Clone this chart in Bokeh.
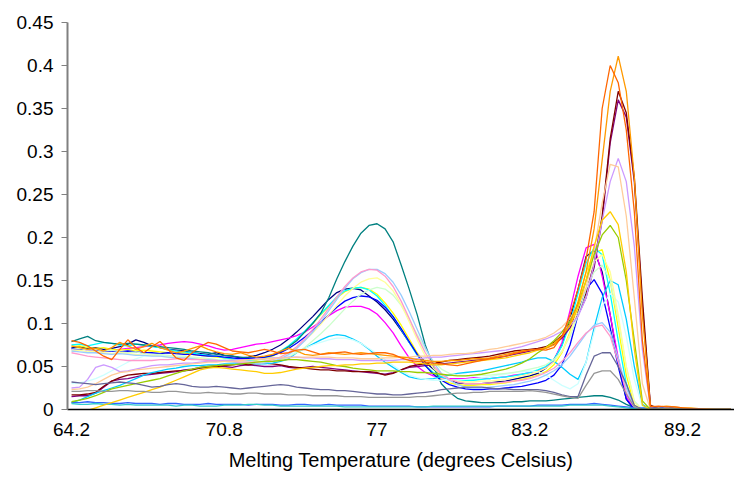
from bokeh.plotting import figure
from bokeh.models import Range1d, FixedTicker
from bokeh.embed import file_html
from bokeh.resources import INLINE

# ---------------- data (index = category step) ----------------
X_TICK_LABELS = ["64.2", "70.8", "77", "83.2", "89.2"]
LABEL_EVERY = 19
Y_TICKS = [0, 0.05, 0.1, 0.15, 0.2, 0.25, 0.3, 0.35, 0.4, 0.45]
Y_LABELS = ["0", "0.05", "0.1", "0.15", "0.2", "0.25", "0.3", "0.35", "0.4", "0.45"]

navy = [0.072,0.073,0.071,0.072,0.070,0.071,0.073,0.076,0.081,0.078,
        0.074,0.072,0.070,0.069,0.068,0.066,0.065,0.064,0.066,0.063,
        0.062,0.060,0.061,0.063,0.066,0.070,0.075,0.082,0.090,0.099,
        0.108,0.118,0.128,0.136,0.140,0.141,0.139,0.132,0.125,0.116,
        0.105,0.092,0.078,0.065,0.055,0.047,0.040,0.035,0.031,0.030,
        0.030,0.030,0.031,0.032,0.033,0.035,0.037,0.039,0.042,0.048,
        0.058,0.075,0.105,0.140,0.178,0.185,0.160,0.110,0.055,0.012,0.0,0.0,
        0,0,0,0,0,0,0,0,0,0,0]
magenta = [0.070,0.071,0.069,0.070,0.068,0.069,0.070,0.071,0.072,0.073,
           0.074,0.075,0.077,0.078,0.079,0.078,0.076,0.074,0.071,0.069,
           0.070,0.072,0.074,0.076,0.077,0.079,0.081,0.083,0.086,0.090,
           0.096,0.102,0.109,0.115,0.119,0.120,0.120,0.117,0.111,0.101,
           0.089,0.074,0.060,0.050,0.043,0.039,0.037,0.036,0.036,0.036,
           0.037,0.037,0.036,0.037,0.038,0.040,0.041,0.043,0.045,0.049,
           0.057,0.078,0.115,0.155,0.188,0.192,0.155,0.110,0.060,0.015,0.0,0.0,
           0,0,0,0,0,0,0,0,0,0,0]
yellow = [0.073,0.074,0.072,0.071,0.072,0.070,0.069,0.070,0.068,0.069,
          0.068,0.067,0.066,0.065,0.066,0.064,0.063,0.062,0.061,0.060,
          0.058,0.057,0.056,0.057,0.059,0.062,0.067,0.073,0.081,0.090,
          0.100,0.110,0.120,0.130,0.137,0.141,0.142,0.140,0.134,0.124,
          0.112,0.098,0.082,0.066,0.052,0.042,0.035,0.031,0.029,0.028,
          0.028,0.029,0.029,0.030,0.031,0.033,0.035,0.037,0.040,0.044,
          0.052,0.066,0.090,0.125,0.160,0.182,0.186,0.150,0.095,0.040,0.005,0.0,
          0,0,0,0,0,0,0,0,0,0,0]
cyan = [0.075,0.076,0.074,0.076,0.078,0.077,0.075,0.074,0.076,0.075,
        0.073,0.072,0.070,0.068,0.067,0.066,0.064,0.063,0.062,0.060,
        0.059,0.058,0.057,0.058,0.060,0.063,0.068,0.074,0.082,0.091,
        0.101,0.111,0.121,0.131,0.138,0.141,0.142,0.139,0.132,0.121,
        0.108,0.093,0.078,0.063,0.051,0.043,0.038,0.035,0.034,0.034,
        0.034,0.035,0.036,0.037,0.038,0.039,0.041,0.043,0.046,0.050,
        0.058,0.074,0.100,0.135,0.170,0.188,0.180,0.135,0.080,0.030,0.003,0.0,
        0,0,0,0,0,0,0,0,0,0,0]
purple = [0.015,0.016,0.016,0.019,0.026,0.033,0.035,0.036,0.038,0.040,
          0.041,0.042,0.043,0.044,0.046,0.047,0.049,0.050,0.051,0.050,
          0.049,0.051,0.052,0.051,0.050,0.050,0.051,0.049,0.048,0.049,
          0.050,0.049,0.048,0.047,0.046,0.045,0.044,0.043,0.042,0.041,
          0.043,0.046,0.049,0.050,0.051,0.052,0.053,0.054,0.055,0.056,
          0.057,0.058,0.059,0.060,0.062,0.064,0.066,0.068,0.070,0.072,
          0.076,0.083,0.095,0.110,0.130,0.165,0.220,0.310,0.360,0.340,0.265,0.120,
          0.004,0.001,0,0,0,0,0,0,0,0,0]
darkred = [0.017,0.017,0.018,0.020,0.027,0.033,0.037,0.040,0.041,0.042,
           0.042,0.043,0.044,0.045,0.045,0.046,0.048,0.049,0.050,0.051,
           0.052,0.053,0.052,0.053,0.054,0.053,0.052,0.050,0.049,0.048,
           0.047,0.046,0.046,0.045,0.045,0.044,0.044,0.044,0.043,0.040,
           0.042,0.046,0.050,0.052,0.053,0.054,0.055,0.057,0.058,0.059,
           0.060,0.061,0.062,0.064,0.066,0.068,0.069,0.070,0.071,0.073,
           0.078,0.086,0.098,0.115,0.135,0.170,0.225,0.315,0.370,0.345,0.270,0.130,
           0.005,0.001,0,0,0,0,0,0,0,0,0]
teal = [0.079,0.082,0.085,0.080,0.078,0.077,0.076,0.077,0.076,0.075,
        0.074,0.073,0.072,0.071,0.070,0.068,0.067,0.066,0.064,0.063,
        0.062,0.061,0.060,0.060,0.061,0.063,0.067,0.073,0.080,0.090,
        0.100,0.112,0.130,0.152,0.172,0.190,0.205,0.214,0.216,0.210,
        0.195,0.168,0.140,0.110,0.075,0.050,0.030,0.020,0.013,0.010,
        0.009,0.008,0.008,0.008,0.008,0.009,0.009,0.010,0.010,0.010,
        0.011,0.012,0.013,0.014,0.015,0.016,0.016,0.014,0.011,0.006,0.002,0.0,
        0,0,0,0,0,0,0,0,0,0,0]
blue = [0.071,0.070,0.070,0.069,0.068,0.068,0.067,0.068,0.067,0.066,
        0.066,0.065,0.066,0.065,0.064,0.064,0.063,0.062,0.062,0.061,
        0.060,0.059,0.059,0.060,0.061,0.063,0.066,0.071,0.077,0.084,
        0.092,0.101,0.110,0.119,0.126,0.130,0.132,0.131,0.127,0.119,
        0.108,0.094,0.079,0.064,0.051,0.041,0.034,0.029,0.026,0.024,
        0.023,0.023,0.024,0.024,0.025,0.026,0.027,0.029,0.031,0.034,
        0.040,0.052,0.075,0.110,0.140,0.151,0.135,0.095,0.050,0.012,0.0,0.0,
        0,0,0,0,0,0,0,0,0,0,0]
skyblue = [0.008,0.011,0.015,0.019,0.022,0.025,0.028,0.032,0.036,0.040,
           0.043,0.045,0.047,0.048,0.050,0.051,0.051,0.052,0.052,0.053,
           0.053,0.053,0.054,0.053,0.053,0.054,0.056,0.059,0.066,0.071,
           0.076,0.081,0.085,0.087,0.086,0.082,0.077,0.070,0.062,0.055,
           0.049,0.043,0.038,0.036,0.035,0.036,0.038,0.040,0.042,0.043,
           0.044,0.045,0.047,0.049,0.051,0.053,0.055,0.058,0.060,0.060,
           0.056,0.049,0.041,0.035,0.055,0.095,0.130,0.150,0.145,0.105,0.050,0.006,
           0,0,0,0,0,0,0,0,0,0,0]
lightturq = [0.030,0.031,0.033,0.036,0.040,0.045,0.050,0.055,0.059,0.062,
             0.063,0.063,0.062,0.062,0.061,0.060,0.060,0.059,0.058,0.058,
             0.057,0.057,0.056,0.056,0.057,0.058,0.060,0.063,0.067,0.071,
             0.075,0.078,0.081,0.083,0.083,0.081,0.077,0.071,0.065,0.058,
             0.051,0.045,0.040,0.037,0.035,0.034,0.034,0.034,0.034,0.035,
             0.036,0.037,0.038,0.040,0.041,0.043,0.044,0.045,0.044,0.040,
             0.034,0.028,0.024,0.030,0.055,0.090,0.120,0.135,0.125,0.085,0.035,0.003,
             0,0,0,0,0,0,0,0,0,0,0]
lightgreen = [0.070,0.071,0.069,0.070,0.068,0.069,0.067,0.066,0.067,0.065,
              0.064,0.064,0.063,0.062,0.062,0.061,0.060,0.059,0.058,0.057,
              0.056,0.055,0.055,0.054,0.055,0.056,0.058,0.061,0.066,0.072,
              0.080,0.088,0.097,0.107,0.117,0.126,0.134,0.139,0.142,0.140,
              0.133,0.121,0.105,0.087,0.070,0.056,0.047,0.042,0.040,0.039,
              0.039,0.040,0.040,0.041,0.042,0.043,0.045,0.047,0.049,0.052,
              0.058,0.068,0.085,0.110,0.140,0.160,0.168,0.150,0.105,0.050,0.010,0.0,
              0,0,0,0,0,0,0,0,0,0,0]
lightyellow = [0.068,0.069,0.067,0.068,0.066,0.065,0.066,0.065,0.064,0.063,
               0.063,0.062,0.061,0.061,0.060,0.059,0.059,0.058,0.057,0.056,
               0.055,0.055,0.054,0.055,0.056,0.058,0.061,0.066,0.072,0.080,
               0.089,0.099,0.110,0.121,0.132,0.141,0.148,0.152,0.153,0.148,
               0.138,0.122,0.102,0.081,0.062,0.048,0.040,0.035,0.033,0.032,
               0.032,0.033,0.033,0.034,0.035,0.037,0.039,0.041,0.044,0.048,
               0.055,0.067,0.088,0.118,0.150,0.172,0.180,0.160,0.110,0.050,0.008,0.0,
               0,0,0,0,0,0,0,0,0,0,0]
paleblue = [0.068,0.067,0.066,0.066,0.065,0.064,0.065,0.064,0.063,0.063,
            0.062,0.062,0.061,0.060,0.060,0.059,0.058,0.058,0.057,0.056,
            0.055,0.054,0.054,0.053,0.054,0.056,0.059,0.064,0.071,0.080,
            0.090,0.102,0.115,0.128,0.141,0.152,0.159,0.163,0.163,0.158,
            0.148,0.133,0.114,0.093,0.072,0.055,0.042,0.034,0.029,0.026,
            0.025,0.025,0.026,0.027,0.028,0.029,0.031,0.033,0.036,0.040,
            0.045,0.052,0.062,0.075,0.088,0.098,0.101,0.090,0.060,0.025,0.003,0.0,
            0,0,0,0,0,0,0,0,0,0,0]
rose = [0.066,0.064,0.062,0.061,0.060,0.059,0.058,0.057,0.057,0.057,
        0.057,0.058,0.058,0.059,0.059,0.058,0.058,0.057,0.057,0.056,
        0.056,0.055,0.055,0.055,0.056,0.058,0.061,0.066,0.073,0.082,
        0.093,0.105,0.118,0.131,0.143,0.153,0.160,0.163,0.162,0.155,
        0.143,0.126,0.106,0.085,0.066,0.051,0.041,0.035,0.032,0.030,
        0.030,0.030,0.031,0.031,0.032,0.033,0.034,0.036,0.039,0.043,
        0.048,0.056,0.066,0.078,0.089,0.096,0.098,0.085,0.055,0.020,0.002,0.0,
        0,0,0,0,0,0,0,0,0,0,0]
lavender = [0.025,0.026,0.035,0.049,0.052,0.049,0.044,0.045,0.047,0.049,
            0.051,0.052,0.052,0.053,0.054,0.054,0.055,0.056,0.056,0.057,
            0.057,0.058,0.058,0.059,0.059,0.060,0.060,0.061,0.061,0.060,
            0.060,0.059,0.059,0.058,0.058,0.058,0.057,0.057,0.057,0.057,
            0.057,0.058,0.058,0.059,0.060,0.061,0.061,0.062,0.063,0.064,
            0.065,0.066,0.067,0.068,0.069,0.071,0.073,0.076,0.079,0.082,
            0.086,0.091,0.098,0.108,0.130,0.170,0.220,0.265,0.292,0.265,0.190,0.070,
            0.002,0,0,0,0,0,0,0,0,0,0]
tan = [0.023,0.024,0.026,0.030,0.035,0.040,0.043,0.044,0.046,0.047,
       0.048,0.049,0.050,0.051,0.052,0.053,0.054,0.055,0.055,0.056,
       0.056,0.057,0.058,0.058,0.059,0.059,0.060,0.060,0.061,0.061,
       0.061,0.061,0.061,0.060,0.060,0.060,0.059,0.059,0.059,0.060,
       0.060,0.061,0.061,0.062,0.062,0.063,0.063,0.064,0.065,0.065,
       0.066,0.068,0.070,0.071,0.073,0.075,0.077,0.079,0.081,0.084,
       0.089,0.096,0.106,0.120,0.142,0.185,0.240,0.285,0.282,0.225,0.130,0.030,
       0,0,0,0,0,0,0,0,0,0,0]
lightblue = [0.008,0.008,0.009,0.008,0.008,0.007,0.007,0.008,0.007,0.007,
             0.007,0.006,0.007,0.007,0.006,0.006,0.006,0.007,0.006,0.006,
             0.006,0.006,0.005,0.006,0.006,0.006,0.005,0.005,0.006,0.006,
             0.005,0.005,0.006,0.005,0.005,0.005,0.005,0.004,0.004,0.004,
             0.004,0.004,0.004,0.003,0.003,0.003,0.003,0.003,0.003,0.003,
             0.003,0.003,0.003,0.004,0.004,0.004,0.004,0.004,0.005,0.005,
             0.005,0.005,0.006,0.006,0.006,0.007,0.006,0.005,0.004,0.003,0.002,0.002,
             0.002,0.002,0.003,0.002,0.001,0.001,0,0,0,0,0]
aqua = [0.007,0.006,0.006,0.007,0.006,0.006,0.005,0.006,0.005,0.005,
        0.005,0.005,0.005,0.004,0.005,0.005,0.004,0.004,0.004,0.005,
        0.005,0.005,0.006,0.006,0.005,0.005,0.004,0.004,0.004,0.004,
        0.004,0.004,0.004,0.004,0.003,0.003,0.003,0.003,0.003,0.003,
        0.003,0.003,0.003,0.003,0.003,0.004,0.004,0.004,0.004,0.004,
        0.004,0.004,0.004,0.004,0.004,0.004,0.004,0.004,0.004,0.004,
        0.004,0.004,0.005,0.005,0.005,0.005,0.005,0.004,0.003,0.002,0.001,0.001,
        0,0,0,0,0,0,0,0,0,0,0]
lime = [0.009,0.011,0.013,0.016,0.020,0.024,0.026,0.028,0.030,0.032,
        0.034,0.036,0.039,0.042,0.045,0.047,0.049,0.050,0.051,0.052,
        0.052,0.053,0.054,0.055,0.056,0.056,0.057,0.058,0.058,0.057,
        0.056,0.055,0.053,0.051,0.050,0.048,0.047,0.046,0.045,0.045,
        0.045,0.044,0.044,0.043,0.043,0.042,0.041,0.040,0.039,0.039,
        0.040,0.041,0.043,0.045,0.047,0.050,0.054,0.059,0.066,0.072,
        0.080,0.090,0.103,0.122,0.150,0.180,0.203,0.214,0.200,0.150,0.080,0.010,
        0,0,0,0,0,0,0,0,0,0,0]
gold = [-0.006,-0.004,-0.001,0.002,0.005,0.008,0.011,0.014,0.017,0.020,
        0.023,0.026,0.030,0.034,0.038,0.042,0.046,0.048,0.049,0.048,
        0.047,0.046,0.045,0.044,0.042,0.042,0.043,0.045,0.047,0.048,
        0.049,0.050,0.051,0.051,0.052,0.052,0.053,0.053,0.054,0.054,
        0.055,0.055,0.055,0.054,0.053,0.052,0.052,0.053,0.054,0.055,
        0.056,0.057,0.058,0.059,0.060,0.062,0.064,0.066,0.069,0.072,
        0.077,0.085,0.098,0.118,0.150,0.190,0.220,0.230,0.215,0.160,0.070,0.005,
        0,0,0,0,0,0,0,0,0,0,0]
lightorange = [0.074,0.072,0.070,0.071,0.068,0.072,0.078,0.074,0.070,0.073,
               0.077,0.072,0.069,0.066,0.068,0.071,0.074,0.070,0.067,0.065,
               0.064,0.066,0.063,0.061,0.062,0.064,0.068,0.071,0.068,0.064,
               0.063,0.064,0.066,0.065,0.064,0.065,0.066,0.065,0.064,0.063,
               0.062,0.061,0.060,0.058,0.057,0.056,0.056,0.057,0.057,0.058,
               0.059,0.059,0.060,0.062,0.064,0.066,0.068,0.069,0.070,0.071,
               0.075,0.085,0.100,0.125,0.160,0.210,0.290,0.370,0.411,0.370,0.270,0.110,
               0.004,0.003,0.004,0.003,0.002,0.002,0.001,0.001,0,0,0]
orange = [0.080,0.078,0.074,0.068,0.062,0.058,0.070,0.081,0.072,0.066,
          0.073,0.079,0.070,0.060,0.057,0.066,0.073,0.078,0.076,0.072,
          0.068,0.067,0.066,0.068,0.070,0.068,0.065,0.066,0.069,0.070,
          0.067,0.064,0.065,0.066,0.067,0.065,0.064,0.065,0.066,0.066,
          0.064,0.060,0.057,0.056,0.055,0.054,0.053,0.052,0.051,0.053,
          0.055,0.057,0.059,0.061,0.062,0.065,0.067,0.069,0.070,0.069,
          0.072,0.085,0.110,0.140,0.175,0.230,0.350,0.400,0.380,0.325,0.230,0.080,
          0.003,0.004,0.003,0.003,0.002,0.001,0.001,0,0,0,0]
bluegray = [0.032,0.031,0.030,0.029,0.030,0.031,0.032,0.031,0.030,0.028,
            0.026,0.027,0.029,0.030,0.029,0.027,0.026,0.026,0.027,0.026,
            0.025,0.024,0.025,0.026,0.027,0.028,0.029,0.028,0.026,0.025,
            0.024,0.023,0.023,0.022,0.022,0.021,0.020,0.019,0.018,0.018,
            0.017,0.017,0.018,0.019,0.020,0.021,0.023,0.024,0.025,0.026,
            0.026,0.026,0.025,0.024,0.024,0.023,0.023,0.023,0.023,0.022,
            0.020,0.017,0.015,0.015,0.040,0.062,0.066,0.066,0.050,0.030,0.005,0.0,
            0,0,0,0,0,0,0,0,0,0,0]
gray = [0.021,0.021,0.022,0.022,0.021,0.021,0.022,0.022,0.021,0.021,
        0.020,0.020,0.021,0.021,0.020,0.019,0.019,0.020,0.019,0.019,
        0.018,0.018,0.019,0.019,0.018,0.018,0.018,0.017,0.017,0.017,
        0.016,0.016,0.016,0.016,0.015,0.015,0.015,0.014,0.014,0.014,
        0.014,0.014,0.014,0.015,0.015,0.016,0.017,0.018,0.019,0.019,
        0.020,0.020,0.021,0.021,0.021,0.021,0.021,0.022,0.021,0.020,
        0.018,0.016,0.014,0.013,0.028,0.042,0.045,0.045,0.035,0.018,0.003,0.0,
        0,0,0,0,0,0,0,0,0,0,0]

SERIES = [
    (navy, "#000080"), (magenta, "#FF00FF"), (yellow, "#FFFF00"), (cyan, "#00FFFF"),
    (purple, "#800080"), (darkred, "#800000"), (teal, "#008080"), (blue, "#0000FF"),
    (skyblue, "#00CCFF"), (lightturq, "#CCFFFF"), (lightgreen, "#CCFFCC"), (lightyellow, "#FFFF99"),
    (paleblue, "#99CCFF"), (rose, "#FF99CC"), (lavender, "#CC99FF"), (tan, "#FFCC99"),
    (lightblue, "#3366FF"), (aqua, "#33CCCC"), (lime, "#99CC00"), (gold, "#FFCC00"),
    (lightorange, "#FF9900"), (orange, "#FF6600"), (bluegray, "#666699"), (gray, "#969696"),
]

# ---------------- figure ----------------
FONT = "Liberation Sans"
p = figure(width=734, height=479, output_backend="svg", toolbar_location=None,
           x_range=Range1d(-0.5, 82.46), y_range=Range1d(0, 0.45),
           min_border_left=67, min_border_right=0, min_border_top=22, min_border_bottom=70)
p.outline_line_color = None
p.grid.visible = False
p.background_fill_color = "white"

for vals, color in SERIES:
    xs = list(range(len(vals)))
    p.line(xs, vals, line_color=color, line_width=1.3)

x_ticks = [i * LABEL_EVERY for i in range(len(X_TICK_LABELS))]
p.xaxis.ticker = FixedTicker(ticks=x_ticks)
p.xaxis.major_label_overrides = {t: l for t, l in zip(x_ticks, X_TICK_LABELS)}
p.xaxis.major_tick_out = 0
p.xaxis.major_tick_in = 0
p.xaxis.minor_tick_out = 0
p.xaxis.minor_tick_in = 0
p.xaxis.axis_line_color = "black"
p.xaxis.axis_line_width = 1.5
p.xaxis.major_label_standoff = 13
p.xaxis.major_label_text_font = FONT
p.xaxis.major_label_text_font_size = "19px"
p.xaxis.major_label_text_color = "black"
p.xaxis.axis_label = "Melting Temperature (degrees Celsius)"
p.xaxis.axis_label_text_font = FONT
p.xaxis.axis_label_text_font_size = "20px"
p.xaxis.axis_label_text_font_style = "normal"
p.xaxis.axis_label_text_color = "black"
p.xaxis.axis_label_standoff = 10

p.yaxis.ticker = FixedTicker(ticks=Y_TICKS)
p.yaxis.major_label_overrides = {t: l for t, l in zip(Y_TICKS, Y_LABELS)}
p.yaxis.axis_line_color = "#808080"
p.yaxis.axis_line_width = 2
p.yaxis.major_tick_line_color = "#808080"
p.yaxis.major_tick_out = 6
p.yaxis.major_tick_in = 0
p.yaxis.minor_tick_out = 0
p.yaxis.minor_tick_in = 0
p.yaxis.major_label_standoff = 8
p.yaxis.major_label_text_font = FONT
p.yaxis.major_label_text_font_size = "19px"
p.yaxis.major_label_text_color = "black"

open("out.html", "w").write(file_html(p, INLINE))
